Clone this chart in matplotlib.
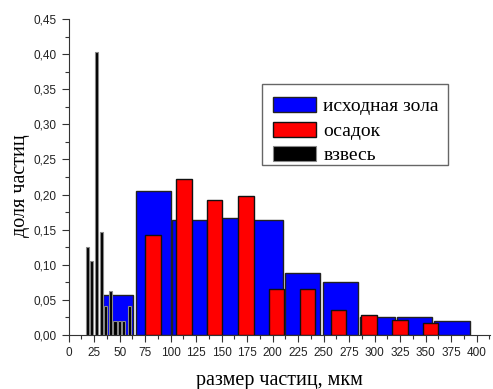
#!/usr/bin/env python3
import matplotlib
matplotlib.use('Agg')
import matplotlib.pyplot as plt
from matplotlib.patches import Rectangle
from matplotlib.ticker import MultipleLocator, FuncFormatter

# исходная зола (blue) - bin edges and fraction
ASH_LEFT = [34, 65.5, 101.5, 137.5, 175, 212, 249, 285.5, 321.5, 358.5]
ASH_RIGHT = [63.5, 100, 136, 173, 210.5, 246.5, 283.5, 320, 356.5, 393.5]
ASH_VAL = [0.057, 0.205, 0.164, 0.167, 0.164, 0.088, 0.075, 0.026, 0.026, 0.020]

# осадок (red)
SED_X = [82.6, 112.9, 143.1, 173.7, 203.4, 233.8, 264.4, 294.3, 324.8, 354.8]
SED_VAL = [0.143, 0.222, 0.192, 0.198, 0.065, 0.065, 0.035, 0.029, 0.022, 0.017]

# взвесь (black)
SUSP_X = [18.6, 22.6, 27.5, 32.2, 36.1, 41.2, 45.2, 49.6, 53.9, 59.6]
SUSP_VAL = [0.126, 0.105, 0.403, 0.147, 0.041, 0.063, 0.020, 0.020, 0.020, 0.042]

LABELS = ['исходная зола', 'осадок', 'взвесь']


def main():
    W, H = 493, 389
    fig = plt.figure(figsize=(W / 100, H / 100), dpi=100)
    ax = fig.add_axes([68.7 / W, 1 - 335 / H, (490 - 68.7) / W, (335 - 19) / H])

    widths = [r - l for l, r in zip(ASH_LEFT, ASH_RIGHT)]
    ax.bar(ASH_LEFT, ASH_VAL, width=widths, align='edge', color='#0000ff',
           edgecolor='#222222', linewidth=1.0, label=LABELS[0], zorder=2)
    ax.bar(SED_X, SED_VAL, width=15, color='#ff0000', edgecolor='#111111',
           linewidth=1.0, label=LABELS[1], zorder=3)
    ax.bar(SUSP_X, SUSP_VAL, width=3.4, color='#000000', edgecolor='#888888',
           linewidth=0.8, label=LABELS[2], zorder=3)

    ax.set_xlim(0, 413)
    ax.set_ylim(0, 0.45)
    ax.spines['top'].set_visible(False)
    ax.spines['right'].set_visible(False)
    ax.spines['left'].set_color('#333333')
    ax.spines['bottom'].set_color('#333333')

    ax.xaxis.set_major_locator(MultipleLocator(25))
    ax.xaxis.set_minor_locator(MultipleLocator(12.5))
    ax.yaxis.set_major_locator(MultipleLocator(0.05))
    ax.yaxis.set_minor_locator(MultipleLocator(0.025))
    ax.yaxis.set_major_formatter(FuncFormatter(lambda v, p: f'{v:.2f}'.replace('.', ',')))
    ax.tick_params(which='major', length=5, width=0.8, color='#333333',
                   labelsize=8.5, labelcolor='#222222')
    ax.tick_params(which='minor', length=3, width=0.8, color='#333333')
    for lab in ax.get_xticklabels() + ax.get_yticklabels():
        lab.set_family('Liberation Sans')

    ax.set_xlabel('размер частиц, мкм', family='Liberation Serif', fontsize=14.5, labelpad=9)
    ax.set_ylabel('доля частиц', family='Liberation Serif', fontsize=14.5)
    ax.yaxis.set_label_coords(-0.092, 0.472)

    # legend box drawn separately (reference frame has uneven padding)
    ax.add_patch(Rectangle((0.4588, 0.538), 0.4415, 0.2563, transform=ax.transAxes,
                           facecolor='white', edgecolor='#666666', linewidth=1.0,
                           zorder=4))
    leg = ax.legend(loc='upper left', bbox_to_anchor=(0.4635, 0.7807), borderaxespad=0,
                    prop={'family': 'Liberation Serif', 'size': 14}, frameon=False,
                    handlelength=2.25, handleheight=0.8, labelspacing=0.33,
                    handletextpad=0.35, borderpad=0.45)
    leg.set_zorder(5)

    fig.savefig('out.png', dpi=100)


if __name__ == '__main__':
    main()
